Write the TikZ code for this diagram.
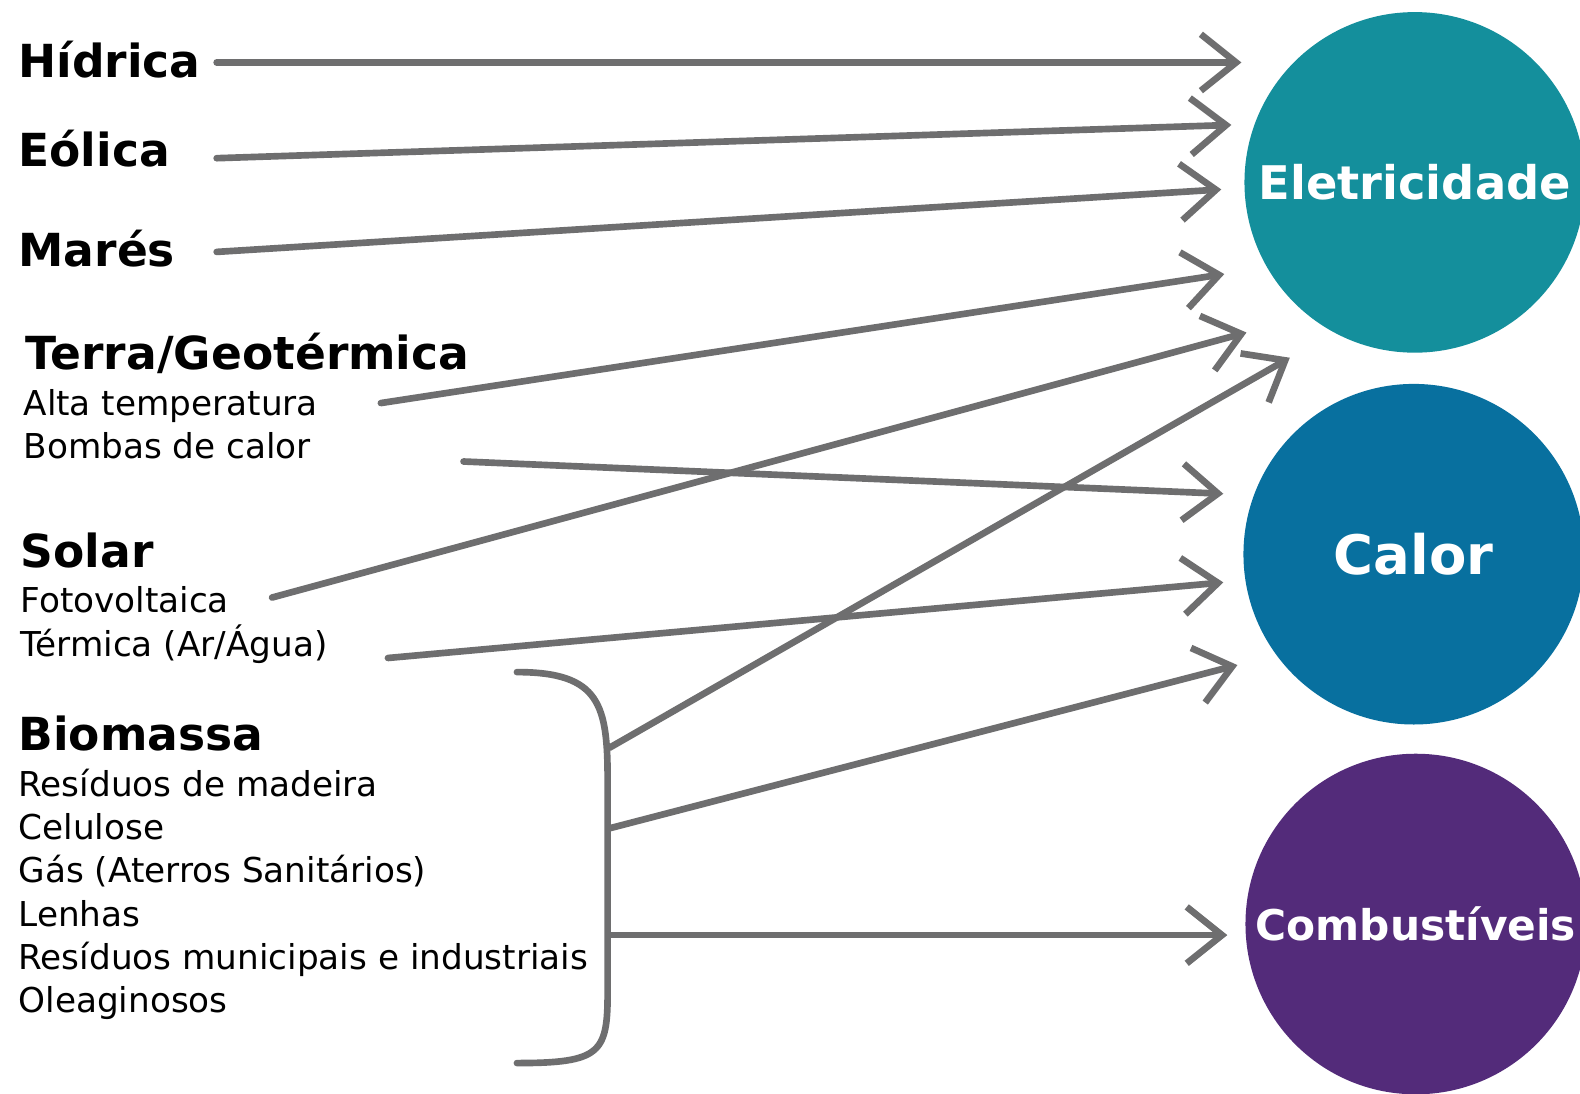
\documentclass[tikz,border=0pt]{standalone}
\usepackage{fontspec}
\setmainfont{DejaVu Sans}
\usetikzlibrary{arrows.meta}
\definecolor{setacinza}{HTML}{6E6E6F}
\definecolor{corelet}{HTML}{148F9C}
\definecolor{corcalor}{HTML}{08709F}
\definecolor{corcomb}{HTML}{532B7A}
\tikzset{
	fonte/.style={anchor=base west, inner sep=0pt, font=\bfseries\fontsize{22.6}{26}\selectfont},
	subfonte/.style={anchor=base west, inner sep=0pt, font=\fontsize{17}{20}\selectfont},
	destino/.style={circle, inner sep=0pt, minimum size=169pt, text=white},
	seta/.style={draw=setacinza, line width=3.3pt, line cap=round, line join=round,
		-{Straight Barb[length=17.5pt, width=28pt]}},
	chave/.style={draw=setacinza, line width=3.3pt, line cap=round}
}

\begin{document}
\begin{tikzpicture}[x=0.5pt, y=-0.5pt]
	% page: 1568 x 1085 units, y downwards
	\path[fill=white, use as bounding box] (0,0) rectangle (1568,1085);

	% energy sources
	\node[fonte] (hidrica) at (18,77) {Hídrica};
	\node[fonte] (eolica) at (18,165) {Eólica};
	\node[fonte] (mares) at (18,264) {Marés};
	\node[fonte] (terra) at (25,367) {Terra/Geotérmica};
	\node[subfonte] (alta) at (23,412) {Alta temperatura};
	\node[subfonte] (bombas) at (23,455) {Bombas de calor};
	\node[fonte] (solar) at (20,563) {Solar};
	\node[subfonte] (foto) at (20,608) {Fotovoltaica};
	\node[subfonte] (termica) at (20,652) {Térmica (Ar/Água)};
	\node[fonte] (biomassa) at (18,745) {Biomassa};
	\foreach \txt [count=\i] in {Resíduos de madeira, Celulose, Gás (Aterros Sanitários),
		Lenhas, Resíduos municipais e industriais, Oleaginosos}
		\node[subfonte] (bio\i) at (18,{790+43*(\i-1)}) {\txt};

	% targets
	\node[destino, fill=corelet, font=\bfseries\fontsize{23}{26}\selectfont] (elet) at (1404,181) {\raisebox{-2pt}{Eletricidade}};
	\node[destino, fill=corcalor, font=\bfseries\fontsize{27}{30}\selectfont] (calor) at (1403,550) {\raisebox{-3pt}{Calor}};
	\node[destino, fill=corcomb, font=\bfseries\fontsize{21}{24}\selectfont] (comb) at (1405,917) {\raisebox{-2pt}{Combustíveis}};

	% biomass bracket
	\draw[chave] (513,667) .. controls (596,667) and (603,700) .. (603,775)
		-- (603,985) .. controls (603,1045) and (596,1055) .. (513,1055);

	% arrow ends
	\coordinate (hidrica-a) at (215,62);   \coordinate (hidrica-b) at (1232,62);
	\coordinate (eolica-a) at (215,157);   \coordinate (eolica-b) at (1222,124);
	\coordinate (mares-a) at (215,250);    \coordinate (mares-b) at (1212,188);
	\coordinate (alta-a) at (378,400);     \coordinate (alta-b) at (1215,272);
	\coordinate (foto-a) at (270,593);     \coordinate (foto-b) at (1237,330);
	\coordinate (bioelet-a) at (605,742);  \coordinate (bioelet-b) at (1280,355);
	\coordinate (bombas-a) at (460,458);   \coordinate (bombas-b) at (1214,490);
	\coordinate (termica-a) at (385,653);  \coordinate (termica-b) at (1214,578);
	\coordinate (biocalor-a) at (605,822); \coordinate (biocalor-b) at (1228,660);
	\coordinate (biocomb-a) at (605,928);  \coordinate (biocomb-b) at (1218,928);

	\foreach \s in {hidrica, eolica, mares, alta, foto, bioelet, bombas, termica, biocalor, biocomb}
		\draw[seta] (\s-a) -- (\s-b);
\end{tikzpicture}
\end{document}
